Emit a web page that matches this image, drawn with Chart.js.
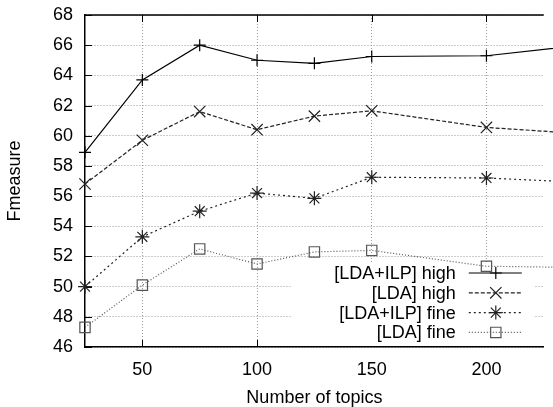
<!DOCTYPE html>
<html>
<head>
<meta charset="utf-8">
<script src="https://cdn.jsdelivr.net/npm/chart.js@4.4.1/dist/chart.umd.min.js"></script>
<style>
    html, body { margin: 0; padding: 0; background: #fff; }
</style>
</head>
<body>
<canvas id="myChart" width="553" height="407"></canvas>
<script>
// число тем (последняя точка за правым краем графика)
const topics = [25, 50, 75, 100, 125, 150, 200, 250];
const xTicks = [50, 100, 150, 200];

const ldaIlpHigh = [58.9, 63.7, 66.0, 65.0, 64.8, 65.25, 65.3, 66.15];
const ldaHigh = [56.8, 59.7, 61.6, 60.4, 61.3, 61.65, 60.55, 60.05];
const ldaIlpFine = [50.0, 53.3, 55.0, 56.2, 55.85, 57.25, 57.2, 56.85];
const ldaFine = [47.3, 50.1, 52.5, 51.5, 52.3, 52.4, 51.35, 51.25];

const seriesLabels = ['[LDA+ILP] high', '[LDA] high', '[LDA+ILP] fine', '[LDA] fine'];

class Main {
    constructor() {
        Chart.defaults.font.family = '"Liberation Sans", Arial, sans-serif';
        Chart.defaults.font.size = 18;
        Chart.defaults.color = '#000';

        this.initializeChart();
    }

    makeSeries(label, values, color, dash, pointStyle, radius) {
        return {
            label: label,
            data: topics.map((x, i) => ({x: x, y: values[i]})),
            borderColor: color,
            borderWidth: 1.2,
            borderDash: dash,
            pointStyle: pointStyle,
            pointRadius: radius,
            pointHoverRadius: radius,
            pointBorderColor: color,
            pointBorderWidth: 1.2,
            pointBackgroundColor: 'transparent',
            fill: false,
            tension: 0,
            clip: false
        };
    }

    initializeChart() {
        const datasets = [
            this.makeSeries(seriesLabels[0], ldaIlpHigh, '#000', [], 'cross', 6),
            this.makeSeries(seriesLabels[1], ldaHigh, '#222', [4, 2], 'crossRot', 8),
            this.makeSeries(seriesLabels[2], ldaIlpFine, '#222', [2, 3], 'star', 7),
            this.makeSeries(seriesLabels[3], ldaFine, '#555', [1, 2], 'rect', 7.3)
        ];

        // рамка сверху и короткие засечки внутрь
        const frame = {
            id: 'frame',
            beforeDatasetsDraw(chart) {
                const {ctx, chartArea: a, scales} = chart;
                ctx.save();
                ctx.strokeStyle = '#000';
                ctx.lineWidth = 1.5;
                ctx.beginPath();
                ctx.moveTo(a.left, a.top);
                ctx.lineTo(a.right, a.top);
                ctx.stroke();

                ctx.lineWidth = 1;
                ctx.beginPath();
                scales.y.ticks.forEach(t => {
                    const y = Math.round(scales.y.getPixelForValue(t.value)) + 0.5;
                    ctx.moveTo(a.left, y);
                    ctx.lineTo(a.left + 7, y);
                });
                xTicks.forEach(v => {
                    const x = Math.round(scales.x.getPixelForValue(v)) + 0.5;
                    ctx.moveTo(x, a.bottom);
                    ctx.lineTo(x, a.bottom - 7);
                    ctx.moveTo(x, a.top);
                    ctx.lineTo(x, a.top + 7);
                });
                ctx.stroke();

                // белая подложка легенды
                ctx.fillStyle = '#fff';
                ctx.fillRect(a.right - 253, a.bottom - 85, 243, 84);
                ctx.restore();
            }
        };

        const legendBox = {
            id: 'legendBox',
            afterDatasetsDraw(chart) {
                const {ctx, chartArea: a} = chart;
                ctx.save();
                ctx.font = '18px "Liberation Sans", Arial, sans-serif';
                ctx.textAlign = 'right';
                ctx.textBaseline = 'middle';
                chart.data.datasets.forEach((ds, i) => {
                    const y = a.bottom - 74 + i * 19.8;
                    ctx.fillStyle = '#000';
                    ctx.fillText(ds.label, a.right - 88, y + 1);

                    ctx.strokeStyle = ds.borderColor;
                    ctx.lineWidth = ds.borderWidth;
                    ctx.setLineDash(ds.borderDash);
                    ctx.beginPath();
                    ctx.moveTo(a.right - 75, y);
                    ctx.lineTo(a.right - 22, y);
                    ctx.stroke();
                    ctx.setLineDash([]);

                    ctx.lineWidth = ds.pointBorderWidth;
                    ctx.fillStyle = 'transparent';
                    Chart.helpers.drawPoint(ctx, {
                        pointStyle: ds.pointStyle,
                        radius: ds.pointRadius,
                        rotation: 0,
                        borderWidth: ds.pointBorderWidth
                    }, a.right - 48, y);
                });
                ctx.restore();
            }
        };

        const ctx = document.getElementById('myChart').getContext('2d');
        new Chart(ctx, {
            type: 'line',
            data: {datasets: datasets},
            options: {
                responsive: false,
                animation: false,
                events: [],
                layout: {
                    padding: {top: 15, right: 0, bottom: 0, left: 0}
                },
                plugins: {
                    legend: {display: false},
                    tooltip: {enabled: false}
                },
                scales: {
                    x: {
                        type: 'linear',
                        min: 25,
                        max: 225,
                        afterBuildTicks: scale => {
                            scale.ticks = xTicks.map(v => ({value: v}));
                        },
                        afterFit: scale => {
                            scale.height = 60;
                            scale.paddingLeft = 0;
                            scale.paddingRight = 0;
                        },
                        ticks: {padding: 12, maxRotation: 0},
                        grid: {color: '#999', lineWidth: 1, drawTicks: false},
                        border: {display: true, color: '#000', width: 1.5, dash: [1, 2]},
                        title: {
                            display: true,
                            text: 'Number of topics',
                            padding: {top: 0, bottom: -2}
                        }
                    },
                    y: {
                        min: 46,
                        max: 68,
                        afterFit: scale => {
                            scale.width = 85;
                            scale.paddingTop = 0;
                            scale.paddingBottom = 0;
                        },
                        ticks: {stepSize: 2, padding: 12},
                        grid: {color: '#999', lineWidth: 1, drawTicks: false},
                        border: {display: true, color: '#000', width: 1.5, dash: [1, 2]},
                        title: {
                            display: true,
                            text: 'Fmeasure',
                            padding: {top: 4, bottom: 0}
                        }
                    }
                }
            },
            plugins: [frame, legendBox]
        });
    }
}

new Main();
</script>
</body>
</html>
